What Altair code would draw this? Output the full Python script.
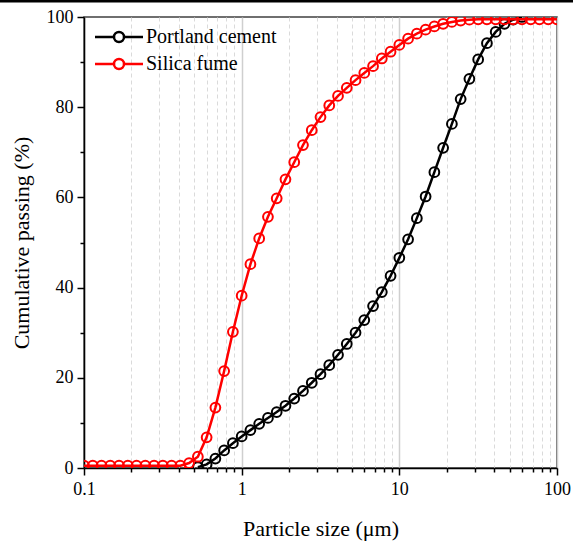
import altair as alt
import pandas as pd

sizes = [0.1, 0.11365, 0.12915, 0.14678, 0.16681, 0.18957, 0.21544, 0.24484, 0.27826,
         0.31623, 0.35938, 0.40842, 0.46416, 0.52749, 0.59948, 0.68129, 0.77426, 0.87992,
         1.0, 1.13646, 1.29155, 1.4678, 1.6681, 1.89574, 2.15443, 2.44844, 2.78256,
         3.16228, 3.59381, 4.08424, 4.64159, 5.275, 5.99484, 6.81292, 7.74264, 8.79923,
         10.0, 11.3646, 12.9155, 14.678, 16.681, 18.9574, 21.5443, 24.4844, 27.8256,
         31.6228, 35.9381, 40.8424, 46.4159, 52.75, 59.9484, 68.1292, 77.4264, 87.9923,
         100.0]

# Portland cement: starts at the 14th bin (0.527 um) and ends at 100 % (bin 51)
pc_sizes = sizes[13:51]
pc_passing = [0.2, 0.8, 2.1, 3.9, 5.5, 7.0, 8.4, 9.8, 11.1, 12.4, 13.8, 15.4, 17.1,
              18.9, 20.8, 22.8, 25.1, 27.5, 30.0, 32.8, 35.9, 39.0, 42.6, 46.6, 50.7,
              55.4, 60.2, 65.6, 71.0, 76.3, 81.8, 86.3, 90.6, 94.2, 96.7, 98.5, 99.4,
              100.0]

# Silica fume: every bin
sf_sizes = sizes
sf_passing = [0.5, 0.5, 0.5, 0.5, 0.5, 0.5, 0.5, 0.5, 0.5, 0.5, 0.5, 0.5,
              1.1, 2.5, 6.8, 13.4, 21.5, 30.2, 38.2, 45.2, 50.9, 55.7, 59.8, 64.0,
              67.8, 71.6, 74.9, 77.8, 80.4, 82.5, 84.3, 86.0, 87.6, 89.1, 90.8, 92.3,
              93.8, 95.2, 96.3, 97.2, 97.9, 98.5, 98.9, 99.2, 99.4,
              99.5, 99.5, 99.5, 99.5, 99.5, 99.5, 99.5, 99.5, 99.5, 99.5]

series_names = ["Portland cement", "Silica fume"]
series_colors = ["#000000", "#ff0000"]

x_ticks = [0.1, 0.2, 0.3, 0.4, 0.5, 0.6, 0.7, 0.8, 0.9,
           1, 2, 3, 4, 5, 6, 7, 8, 9,
           10, 20, 30, 40, 50, 60, 70, 80, 90, 100]
y_ticks = [0, 10, 20, 30, 40, 50, 60, 70, 80, 90, 100]

df = pd.concat([
    pd.DataFrame({"series": series_names[0], "size": pc_sizes, "passing": pc_passing}),
    pd.DataFrame({"series": series_names[1], "size": sf_sizes, "passing": sf_passing}),
], ignore_index=True)

FONT = "Liberation Serif"
major_x = "indexof([0.1,1,10,100], datum.value) >= 0"
major_y = "datum.value % 20 == 0"

legend_path = ("M-4.8,0H-1M1,0H4.8M-1,0A1,1,0,1,1,1,0A1,1,0,1,1,-1,0")

x_enc = alt.X(
    "size:Q",
    scale=alt.Scale(type="log", domain=[0.1, 100]),
    axis=alt.Axis(
        title="Particle size (μm)",
        values=x_ticks,
        labelExpr=f"{major_x} ? format(datum.value, '~g') : ''",
        labelOverlap=False,
        labelFlush=False,
        labelFont=FONT, labelFontSize=18, labelColor="black", labelPadding=5,
        titleFont=FONT, titleFontSize=22, titleFontWeight="normal", titleColor="black",
        titlePadding=20,
        tickSize={"condition": {"test": major_x, "value": 7}, "value": 4},
        tickColor="black", tickWidth=1.5,
        domainColor="black", domainWidth=1.5,
        grid=True,
        gridColor={"condition": {"test": major_x, "value": "#cfcfcf"}, "value": "#dadada"},
        gridDash={"condition": {"test": major_x, "value": []}, "value": [4, 3]},
        gridWidth={"condition": {"test": major_x, "value": 1.5}, "value": 1},
    ),
)
y_enc = alt.Y(
    "passing:Q",
    scale=alt.Scale(domain=[0, 100], nice=False),
    axis=alt.Axis(
        title="Cumulative passing (%)",
        values=y_ticks,
        labelExpr=f"{major_y} ? datum.label : ''",
        labelOverlap=False,
        labelFlush=False,
        labelFont=FONT, labelFontSize=18, labelColor="black", labelPadding=4,
        titleFont=FONT, titleFontSize=22, titleFontWeight="normal", titleColor="black",
        titlePadding=13,
        tickSize={"condition": {"test": major_y, "value": 7}, "value": 4},
        tickColor="black", tickWidth=1.5,
        domainColor="black", domainWidth=1.5,
        grid=False,
    ),
)
color_enc = alt.Color(
    "series:N",
    scale=alt.Scale(domain=series_names, range=series_colors),
    legend=alt.Legend(
        title=None,
        orient="none",
        legendX=25, legendY=10,
        symbolType=legend_path,
        symbolSize=100,
        symbolStrokeWidth=2.5,
        symbolFillColor="transparent",
        labelFont=FONT, labelFontSize=20, labelColor="black",
        labelOffset=17,
        rowPadding=7,
        padding=0,
    ),
)

base = alt.Chart(df).encode(x=x_enc, y=y_enc, color=color_enc)

layers = []
for name in series_names:
    sub = base.transform_filter(alt.datum.series == name)
    layers.append(sub.mark_line(strokeWidth=2.5, clip=True))
    layers.append(sub.mark_point(shape="circle", filled=False, size=95, strokeWidth=2, opacity=1, clip=True))

top_bar = alt.Chart(alt.Data(values=[{"a": 1}])).mark_rule(color="black", strokeWidth=3).encode(
    x=alt.value(-84), x2=alt.value(489), y=alt.value(-16)
)

chart = alt.layer(*layers, top_bar).properties(
    width=473, height=451,
    padding={"left": 84, "top": 17, "right": 16, "bottom": 76},
    autosize=alt.AutoSizeParams(type="none"),
    background="white",
).configure_view(
    stroke="#404040", strokeWidth=1.5
)

chart.save("out.html", embed_options={"renderer": "svg", "actions": False})
